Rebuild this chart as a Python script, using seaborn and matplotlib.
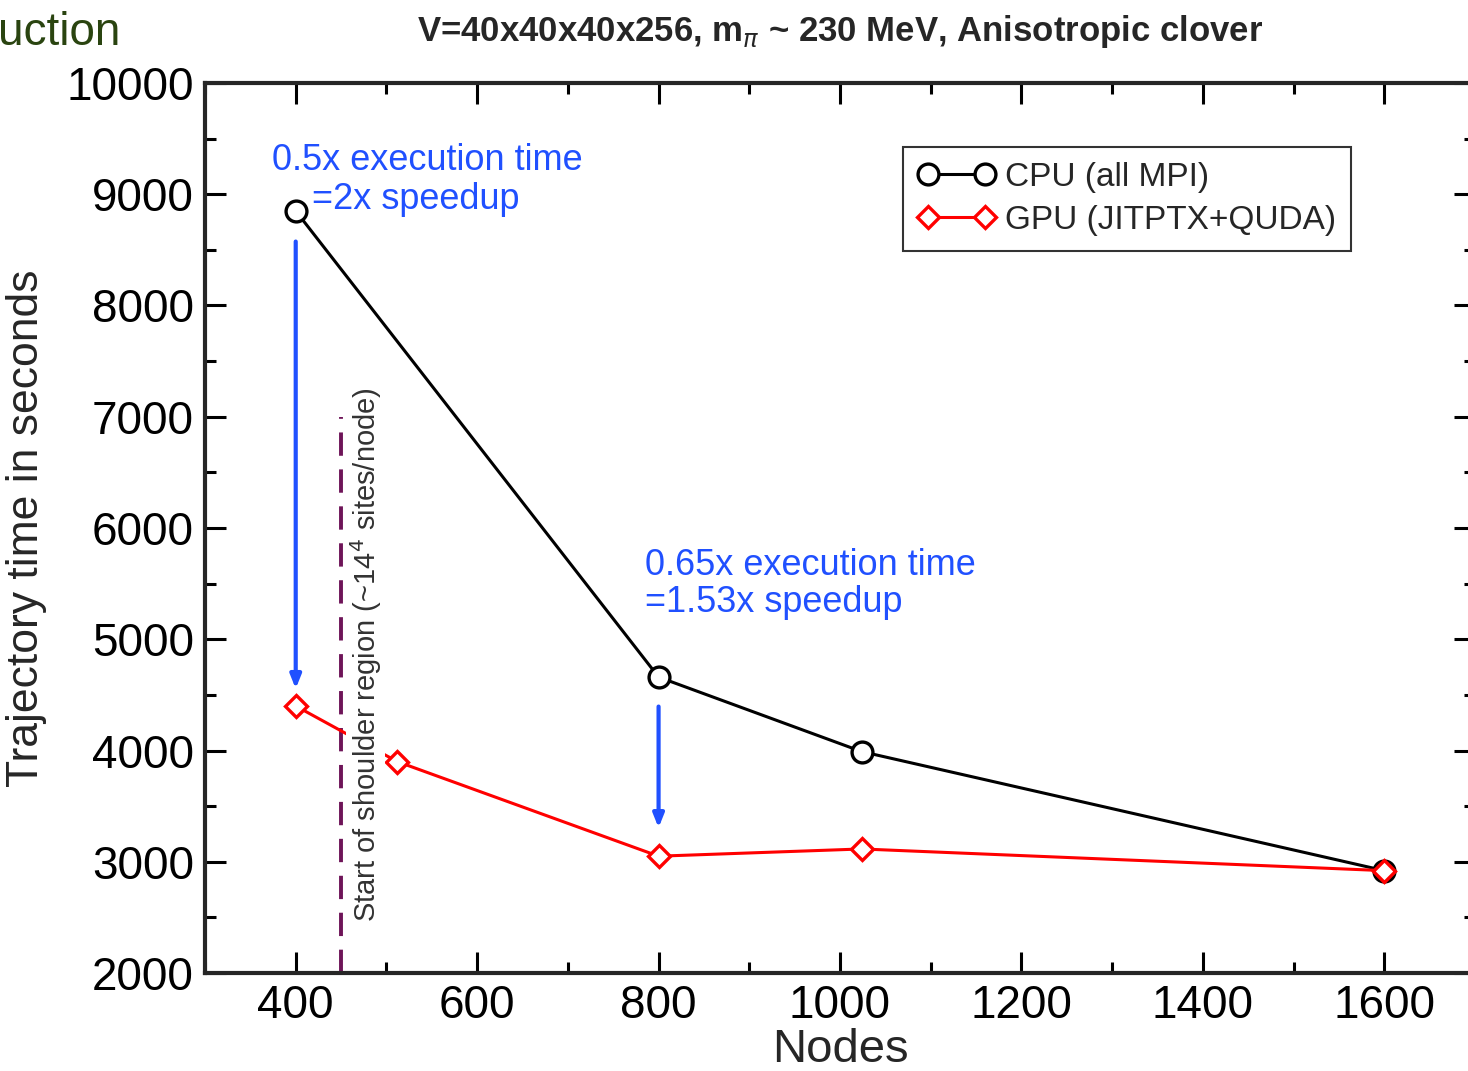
import matplotlib
matplotlib.use("Agg")
import matplotlib.pyplot as plt
import seaborn as sns
import pandas as pd
from matplotlib.ticker import MultipleLocator

# data
cpu_nodes = [400, 800, 1024, 1600]
cpu_time = [8850, 4660, 3990, 2920]
gpu_nodes = [400, 512, 800, 1024, 1600]
gpu_time = [4400, 3900, 3050, 3115, 2920]

shoulder_x = 450
shoulder_top = 7000

cpu = pd.DataFrame({"nodes": cpu_nodes, "time": cpu_time})
gpu = pd.DataFrame({"nodes": gpu_nodes, "time": gpu_time})

sns.set_style("ticks")
plt.rcParams["font.family"] = ["Liberation Sans", "DejaVu Sans"]

fig = plt.figure(figsize=(14.68, 10.71), dpi=100)
ax = fig.add_axes([205 / 1468, 1 - 973 / 1071, 1270 / 1468, 890 / 1071])

sns.lineplot(data=cpu, x="nodes", y="time", ax=ax, color="black", lw=2.2,
             marker="o", markersize=15, markerfacecolor="white",
             markeredgecolor="black", markeredgewidth=2.4, label="CPU (all MPI)")
sns.lineplot(data=gpu, x="nodes", y="time", ax=ax, color="red", lw=2.2,
             marker="D", markersize=11, markerfacecolor="white",
             markeredgecolor="red", markeredgewidth=2.4, label="GPU (JITPTX+QUDA)")

# shoulder region marker
ax.plot([shoulder_x, shoulder_x], [2000, shoulder_top], color="#6e1458",
        lw=2.8, dashes=(6, 3.5), zorder=1)
ax.text(477, 4860, "Start of shoulder region (~14$^4$ sites/node)", rotation=90,
        ha="center", va="center", fontsize=21, color="#333333",
        bbox=dict(facecolor="white", edgecolor="none", pad=1), zorder=2)

# speedup arrows
blue = "#2050ff"
arrow = dict(arrowstyle="-|>,head_length=0.8,head_width=0.32", color=blue, lw=3)
ax.annotate("", xy=(400, 4530), xytext=(400, 8600), arrowprops=arrow)
ax.annotate("", xy=(800, 3280), xytext=(800, 4420), arrowprops=arrow)
ax.text(300 + (272 - 205) / 0.9075, 10000 - (180 - 83) / 0.11125,
        "0.5x execution time\n    =2x speedup", color=blue, fontsize=26,
        ha="left", va="center", linespacing=1.15)
ax.text(300 + (645 - 205) / 0.9075, 10000 - (584 - 83) / 0.11125,
        "0.65x execution time\n=1.53x speedup", color=blue, fontsize=26,
        ha="left", va="center", linespacing=1.1)

ax.set_xlim(300, 1700)
ax.set_ylim(2000, 10000)
ax.xaxis.set_major_locator(MultipleLocator(200))
ax.xaxis.set_minor_locator(MultipleLocator(100))
ax.yaxis.set_major_locator(MultipleLocator(1000))
ax.yaxis.set_minor_locator(MultipleLocator(500))
ax.tick_params(which="both", direction="in", top=True, right=True,
               width=2.2, colors="black", labelsize=33, pad=8)
ax.tick_params(which="major", length=15)
ax.tick_params(which="minor", length=8)
for s in ax.spines.values():
    s.set_linewidth(3)
    s.set_visible(True)

ax.set_xlabel("Nodes", fontsize=34, labelpad=0)
ax.set_ylabel("Trajectory time in seconds", fontsize=32, labelpad=14)
ax.set_title("V=40x40x40x256, m$_\\pi$ ~ 230 MeV, Anisotropic clover",
             fontsize=25, fontweight="bold", pad=30)

leg = ax.legend(loc="upper left", bbox_to_anchor=((903 - 205) / 1270, 1 - (147 - 83) / 890),
                fontsize=24, frameon=True, fancybox=False, handlelength=2.3,
                handletextpad=0.3, borderpad=0.45, labelspacing=0.35, numpoints=2,
                borderaxespad=0)
leg.get_frame().set_edgecolor("black")
leg.get_frame().set_linewidth(1.5)

fig.text(120 / 1468, 1 - 33 / 1071, "uction", ha="right", va="center",
         fontsize=33, color="#2a4410")

fig.savefig("out.png", dpi=100)
